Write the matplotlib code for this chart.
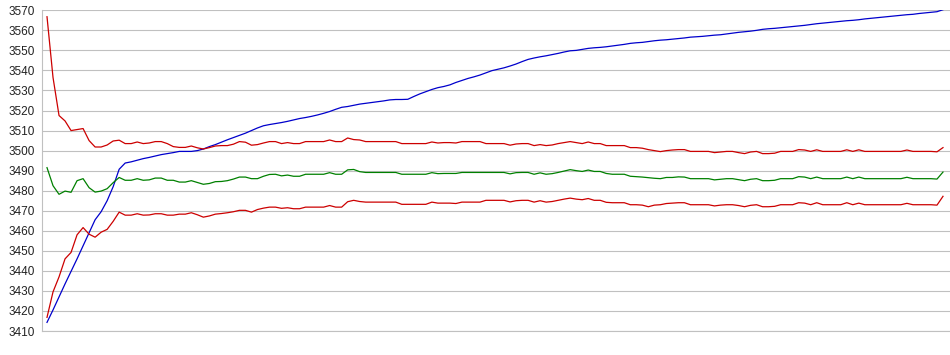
import matplotlib.pyplot as plt
import numpy as np

# 四条曲线的数据（从原图读出，150 个采样点）
upper = [
    3566.8, 3536.5, 3517.5, 3514.8, 3510.0, 3510.5, 3511.0, 3505.0, 3501.8, 3501.8,
    3502.8, 3504.8, 3505.2, 3503.5, 3503.5, 3504.3, 3503.5, 3503.8, 3504.5, 3504.5,
    3503.5, 3502.0, 3501.6, 3501.6, 3502.3, 3501.4, 3500.8, 3501.5, 3502.3, 3502.5,
    3502.5, 3503.2, 3504.5, 3504.2, 3502.7, 3503.0, 3503.8, 3504.5, 3504.5, 3503.5,
    3504.0, 3503.5, 3503.5, 3504.5, 3504.5, 3504.5, 3504.5, 3505.3, 3504.5, 3504.5,
    3506.3, 3505.5, 3505.3, 3504.5, 3504.5, 3504.5, 3504.5, 3504.5, 3504.5, 3503.5,
    3503.5, 3503.5, 3503.5, 3503.5, 3504.3, 3503.8, 3504.0, 3504.0, 3503.8, 3504.5,
    3504.5, 3504.5, 3504.5, 3503.5, 3503.5, 3503.5, 3503.5, 3502.7, 3503.3, 3503.5,
    3503.5, 3502.5, 3503.0, 3502.5, 3502.8, 3503.5, 3504.0, 3504.5, 3504.0, 3503.5,
    3504.3, 3503.5, 3503.5, 3502.5, 3502.5, 3502.5, 3502.5, 3501.5, 3501.5, 3501.2,
    3500.5, 3500.0, 3499.5, 3500.0, 3500.3, 3500.5, 3500.5, 3499.6, 3499.6, 3499.6,
    3499.6, 3499.0, 3499.3, 3499.6, 3499.6, 3499.0, 3498.5, 3499.3, 3499.6, 3498.5,
    3498.5, 3498.7, 3499.6, 3499.6, 3499.6, 3500.5, 3500.3, 3499.6, 3500.4, 3499.6,
    3499.6, 3499.6, 3499.6, 3500.4, 3499.6, 3500.4, 3499.6, 3499.6, 3499.6, 3499.6,
    3499.6, 3499.6, 3499.6, 3500.3, 3499.6, 3499.6, 3499.6, 3499.6, 3499.4, 3501.5,
]

mean = [
    3491.5, 3482.5, 3478.2, 3479.8, 3479.2, 3485.0, 3486.0, 3481.5, 3479.3, 3479.8,
    3481.0, 3484.0, 3486.6, 3485.2, 3485.2, 3486.0, 3485.2, 3485.4, 3486.3, 3486.3,
    3485.2, 3485.2, 3484.3, 3484.3, 3485.0, 3484.1, 3483.2, 3483.6, 3484.5, 3484.6,
    3485.0, 3485.8, 3486.8, 3486.8, 3486.0, 3486.0, 3487.2, 3488.1, 3488.2, 3487.4,
    3487.8, 3487.2, 3487.2, 3488.2, 3488.2, 3488.2, 3488.2, 3489.0, 3488.2, 3488.2,
    3490.4, 3490.6, 3489.5, 3489.1, 3489.1, 3489.1, 3489.1, 3489.1, 3489.1, 3488.2,
    3488.2, 3488.2, 3488.2, 3488.2, 3489.0, 3488.5, 3488.6, 3488.6, 3488.6, 3489.1,
    3489.1, 3489.1, 3489.1, 3489.1, 3489.1, 3489.1, 3489.1, 3488.4, 3489.0, 3489.1,
    3489.1, 3488.2, 3488.9, 3488.2, 3488.5, 3489.1, 3489.8, 3490.5, 3490.0, 3489.6,
    3490.3, 3489.6, 3489.6, 3488.6, 3488.2, 3488.2, 3488.2, 3487.2, 3487.0, 3486.8,
    3486.5, 3486.2, 3486.0, 3486.6, 3486.6, 3486.9, 3486.8, 3486.0, 3486.0, 3486.0,
    3486.0, 3485.4, 3485.7, 3486.0, 3486.0, 3485.5, 3485.0, 3485.7, 3486.0, 3485.0,
    3485.0, 3485.2, 3486.0, 3486.0, 3486.0, 3487.0, 3486.8, 3486.0, 3486.8, 3486.0,
    3486.0, 3486.0, 3486.0, 3486.8, 3486.0, 3486.8, 3486.0, 3486.0, 3486.0, 3486.0,
    3486.0, 3486.0, 3486.0, 3486.7, 3486.0, 3486.0, 3486.0, 3486.0, 3485.8, 3489.3,
]

lower = [
    3416.8, 3429.5, 3437.0, 3446.0, 3449.2, 3458.0, 3461.6, 3458.3, 3456.8, 3459.3,
    3460.7, 3464.7, 3469.3, 3467.8, 3467.8, 3468.5, 3467.8, 3467.9, 3468.5, 3468.5,
    3467.8, 3467.8, 3468.3, 3468.3, 3469.0, 3468.0, 3466.8, 3467.4, 3468.3, 3468.6,
    3469.0, 3469.5, 3470.2, 3470.2, 3469.3, 3470.6, 3471.3, 3471.8, 3471.8, 3471.2,
    3471.5, 3471.0, 3471.0, 3471.8, 3471.8, 3471.8, 3471.8, 3472.6, 3471.8, 3471.8,
    3474.5, 3475.2, 3474.6, 3474.3, 3474.3, 3474.3, 3474.3, 3474.3, 3474.3, 3473.2,
    3473.2, 3473.2, 3473.2, 3473.2, 3474.3, 3473.8, 3473.8, 3473.8, 3473.6, 3474.3,
    3474.3, 3474.3, 3474.3, 3475.2, 3475.2, 3475.2, 3475.2, 3474.4, 3475.0, 3475.2,
    3475.2, 3474.3, 3475.0, 3474.3, 3474.6, 3475.2, 3475.8, 3476.3, 3475.8, 3475.5,
    3476.1, 3475.2, 3475.2, 3474.2, 3474.0, 3474.0, 3474.0, 3473.0, 3473.0, 3472.8,
    3472.0, 3472.8, 3473.0, 3473.6, 3473.8, 3474.0, 3474.0, 3473.0, 3473.0, 3473.0,
    3473.0, 3472.4, 3472.8, 3473.0, 3473.0, 3472.6, 3472.0, 3472.7, 3473.0, 3472.0,
    3472.0, 3472.2, 3473.0, 3473.0, 3473.0, 3474.0, 3473.8, 3473.0, 3474.0, 3473.0,
    3473.0, 3473.0, 3473.0, 3474.0, 3473.0, 3473.8, 3473.0, 3473.0, 3473.0, 3473.0,
    3473.0, 3473.0, 3473.0, 3473.7, 3473.0, 3473.0, 3473.0, 3473.0, 3472.8, 3477.2,
]

trend = [
    3414.3, 3420.5, 3427.0, 3433.5, 3439.7, 3446.0, 3452.5, 3459.0, 3465.5, 3469.5,
    3475.0, 3482.0, 3490.7, 3493.8, 3494.4, 3495.2, 3496.0, 3496.6, 3497.3, 3498.0,
    3498.5, 3499.0, 3499.6, 3499.6, 3499.6, 3500.0, 3500.8, 3502.0, 3503.0, 3504.2,
    3505.4, 3506.5, 3507.6, 3508.7, 3510.0, 3511.3, 3512.4, 3513.0, 3513.5, 3514.0,
    3514.6, 3515.3, 3516.0, 3516.5, 3517.1, 3517.8, 3518.6, 3519.5, 3520.6, 3521.6,
    3522.0, 3522.6, 3523.2, 3523.6, 3524.0, 3524.4, 3524.8, 3525.3, 3525.5, 3525.5,
    3525.6, 3527.0, 3528.3, 3529.4, 3530.5, 3531.4, 3532.0, 3532.8, 3534.0, 3535.0,
    3536.0, 3536.8, 3537.7, 3538.8, 3539.9, 3540.6, 3541.3, 3542.2, 3543.2, 3544.4,
    3545.5, 3546.2, 3546.8, 3547.3, 3547.9, 3548.5, 3549.2, 3549.8, 3550.0, 3550.5,
    3551.0, 3551.3, 3551.5, 3551.8, 3552.2, 3552.6, 3553.0, 3553.5, 3553.8, 3554.0,
    3554.4, 3554.8, 3555.1, 3555.3, 3555.6, 3555.9, 3556.2, 3556.6, 3556.8, 3557.0,
    3557.3, 3557.6, 3557.8, 3558.2, 3558.6, 3559.0, 3559.3, 3559.6, 3560.0, 3560.5,
    3560.8, 3561.0, 3561.3, 3561.6, 3561.9, 3562.2, 3562.5, 3562.9, 3563.3, 3563.6,
    3563.9, 3564.2, 3564.5, 3564.8, 3565.0, 3565.3, 3565.7, 3566.0, 3566.3, 3566.6,
    3566.9, 3567.2, 3567.5, 3567.8, 3568.0, 3568.4, 3568.7, 3569.0, 3569.3, 3570.3,
]

y_ticks = list(range(3410, 3571, 10))

plt.rcParams['font.family'] = ['Liberation Sans', 'DejaVu Sans']

fig = plt.figure(figsize=(9.5, 3.55), dpi=100)
ax = fig.add_axes([42 / 950, 24 / 355, 908 / 950, 320.7 / 355])

x = np.arange(len(trend))
ax.plot(x, trend, color='#0000cc', lw=0.9)
ax.plot(x, upper, color='#cc0000', lw=0.9)
ax.plot(x, lower, color='#cc0000', lw=0.9)
ax.plot(x, mean, color='#008000', lw=0.9)

ax.set_xlim(-5 / 6.013, len(trend) - 1 + 7 / 6.013)
ax.set_ylim(3410, 3570)
ax.set_yticks(y_ticks)
ax.set_xticks([])
ax.yaxis.grid(True, color='#c0c0c0', lw=0.8)
ax.set_axisbelow(True)
ax.tick_params(axis='y', length=0, pad=5, labelsize=8.5, colors='#222222')

for s in ['top', 'right']:
    ax.spines[s].set_visible(False)
for s in ['left', 'bottom']:
    ax.spines[s].set_color('#c0c0c0')
    ax.spines[s].set_linewidth(0.8)

fig.savefig('out.png', dpi=100)
